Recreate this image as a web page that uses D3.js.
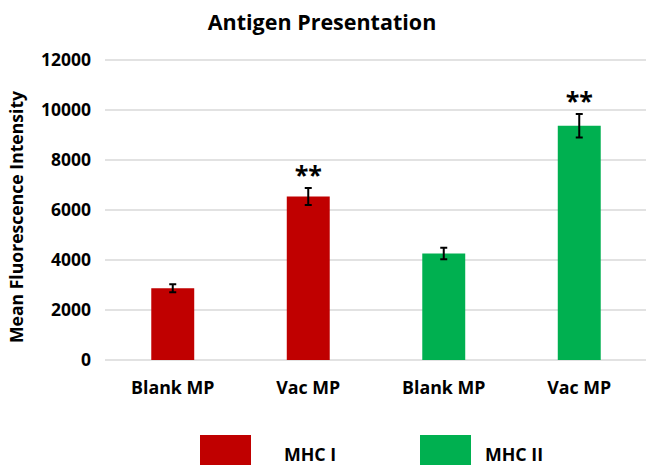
<!DOCTYPE html>
<html><head><meta charset="utf-8">
<script src="https://cdn.jsdelivr.net/npm/d3@7"></script>
<style>body{margin:0;background:#fff}svg{display:block}text{font-family:"Open Sans",sans-serif;font-weight:bold;fill:#000}</style>
</head><body>
<svg id="c" width="646" height="465"></svg>
<script>
const categories = ["Blank MP", "Vac MP", "Blank MP", "Vac MP"];
const series = ["MHC I", "MHC I", "MHC II", "MHC II"];
const values = [2870, 6540, 4260, 9370];
const errors = [160, 340, 230, 470];
const stars = ["", "**", "", "**"];
const seriesNames = ["MHC I", "MHC II"];
const seriesColors = ["#C00000", "#00B050"];
const yTicks = [0, 2000, 4000, 6000, 8000, 10000, 12000];

const svg = d3.select("#c");
const color = d3.scaleOrdinal().domain(seriesNames).range(seriesColors);
const x = d3.scaleBand().domain(d3.range(categories.length)).range([105, 647]).paddingInner(0.683).paddingOuter(0.3415);
const y = d3.scaleLinear().domain([0, 12000]).range([360, 60]);

// gridlines
svg.append("g").selectAll("line").data(yTicks).join("line")
  .attr("x1", 105).attr("x2", 646).attr("y1", d => y(d)).attr("y2", d => y(d))
  .attr("stroke", "#d9d9d9").attr("stroke-width", 1.3);

// y tick labels
svg.append("g").selectAll("text").data(yTicks).join("text")
  .attr("x", 91).attr("y", d => y(d)).attr("dy", "0.36em").attr("text-anchor", "end")
  .attr("font-size", 17.5).text(d => d);

// bars
const idx = d3.range(values.length);
svg.append("g").selectAll("rect").data(idx).join("rect")
  .attr("x", i => x(i)).attr("width", x.bandwidth())
  .attr("y", i => y(values[i])).attr("height", i => y(0) - y(values[i]))
  .attr("fill", i => color(series[i]));

// error bars
const eb = svg.append("g").attr("stroke", "#000").attr("stroke-width", 2);
idx.forEach(i => {
  const cx = x(i) + x.bandwidth() / 2;
  const t = y(values[i] + errors[i]), b = y(values[i] - errors[i]);
  eb.append("line").attr("x1", cx).attr("x2", cx).attr("y1", t).attr("y2", b);
  eb.append("line").attr("x1", cx - 3.5).attr("x2", cx + 3.5).attr("y1", t).attr("y2", t);
  eb.append("line").attr("x1", cx - 3.5).attr("x2", cx + 3.5).attr("y1", b).attr("y2", b);
});

// significance stars
svg.append("g").selectAll("text").data(idx.filter(i => stars[i])).join("text")
  .attr("x", i => x(i) + x.bandwidth() / 2).attr("y", i => y(values[i] + errors[i]) - 4)
  .attr("text-anchor", "middle").attr("font-size", 25).text(i => stars[i]);

// x labels
svg.append("g").selectAll("text").data(idx).join("text")
  .attr("x", i => x(i) + x.bandwidth() / 2).attr("y", 394)
  .attr("text-anchor", "middle").attr("font-size", 17.8).text(i => categories[i]);

// title
svg.append("text").attr("x", 322).attr("y", 30).attr("text-anchor", "middle")
  .attr("font-size", 21.5).text("Antigen Presentation");

// y axis title
svg.append("text").attr("transform", "translate(23,217) rotate(-90)")
  .attr("text-anchor", "middle").attr("font-size", 17.6).text("Mean Fluorescence Intensity");

// legend
const lg = svg.append("g");
const lx = [200, 420], tx = [284, 485];
seriesNames.forEach((s, k) => {
  lg.append("rect").attr("x", lx[k]).attr("y", 435).attr("width", 51).attr("height", 35).attr("fill", color(s));
  lg.append("text").attr("x", tx[k]).attr("y", 461).attr("font-size", 17.8).text(s);
});
</script>
</body></html>
